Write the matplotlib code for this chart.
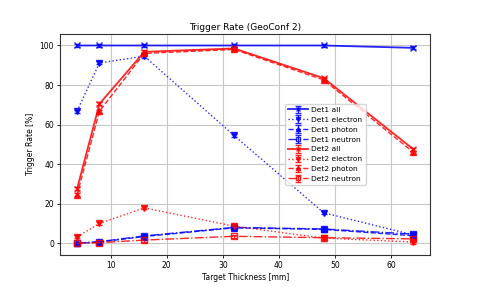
import matplotlib
matplotlib.use("Agg")
import matplotlib.pyplot as plt

thickness = [4, 8, 16, 32, 48, 64]

det1_all = [100, 100, 100, 100, 100, 98.8]
det1_electron = [66.8, 91.2, 94.6, 54.5, 15.4, 4.2]
det1_photon = [0.0, 0.6, 3.4, 7.8, 7.0, 3.8]
det1_neutron = [0.0, 0.8, 3.7, 8.0, 7.2, 4.6]

det2_all = [27.5, 70.5, 96.8, 98.5, 83.5, 47.5]
det2_electron = [3.2, 10.0, 17.9, 8.6, 2.6, 0.6]
det2_photon = [24.5, 66.8, 96.0, 98.0, 82.6, 46.0]
det2_neutron = [0.0, 0.3, 1.6, 3.5, 2.8, 2.2]

labels = ["Det1 all", "Det1 electron", "Det1 photon", "Det1 neutron",
          "Det2 all", "Det2 electron", "Det2 photon", "Det2 neutron"]

fig, ax = plt.subplots(figsize=(4.78, 2.87), dpi=100)
fig.subplots_adjust(left=0.126, right=0.9, top=0.882, bottom=0.112)

series = [
    (det1_all, 'blue', '-', 'x', 1.3),
    (det1_electron, 'blue', ':', 'v', 1.0),
    (det1_photon, 'blue', '--', '^', 1.0),
    (det1_neutron, 'blue', '-.', 's', 1.0),
    (det2_all, 'red', '-', 'x', 1.3),
    (det2_electron, 'red', ':', 'v', 1.0),
    (det2_photon, 'red', '--', '^', 1.0),
    (det2_neutron, 'red', '-.', 's', 1.0),
]
for (vals, c, ls, m, lw), lab in zip(series, labels):
    ax.errorbar(thickness, vals, yerr=0.8, color=c, ls=ls, marker=m,
                markersize=3.8, lw=lw, capsize=2, elinewidth=0.8,
                markerfacecolor='none' if m == 's' else c,
                alpha=0.85, label=lab)

ax.set_title("Trigger Rate (GeoConf 2)", fontsize=6.5, pad=3)
ax.set_xlabel("Target Thickness [mm]", fontsize=5.5, labelpad=2)
ax.set_ylabel("Trigger Rate [%]", fontsize=5.5, labelpad=3)
ax.tick_params(labelsize=5.5, length=2.5, pad=2, width=0.6)
ax.grid(True, color='#c8c8c8', lw=0.8)
for s in ax.spines.values():
    s.set_linewidth(0.8)
    s.set_color('#333333')
ax.legend(loc='center left', bbox_to_anchor=(0.598, 0.5), fontsize=5.4,
          handlelength=2.6, labelspacing=0.48, borderpad=0.4,
          handletextpad=0.5, framealpha=0.8, markerscale=0.8)

fig.savefig("out.png", dpi=100)
